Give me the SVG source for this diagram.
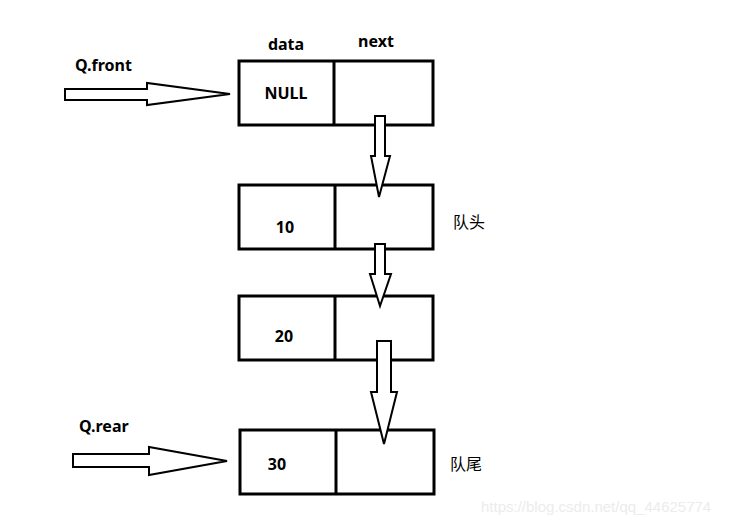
<svg xmlns="http://www.w3.org/2000/svg" width="733" height="524" viewBox="0 0 733 524">
<style>
.box{fill:#fff;stroke:#000;stroke-width:3}
.div{stroke:#000;stroke-width:3}
.arr{fill:#fff;stroke:#000;stroke-width:2;stroke-linejoin:miter}
.lbl{font-family:"Noto Sans","DejaVu Sans",sans-serif;font-weight:bold;font-size:16px;fill:#000}
.cn{font-family:"Noto Sans CJK SC",sans-serif;font-size:16px;fill:#000}
.wm{font-family:"Liberation Sans",Arial,sans-serif;font-size:15px;fill:#ececec}
</style>
<rect width="733" height="524" fill="#fff"/>
<g id="headers">
<text class="lbl" x="286" y="50" text-anchor="middle">data</text>
<text class="lbl" x="376" y="47" text-anchor="middle">next</text>
</g>
<g id="node-head">
<rect class="box" x="239" y="61" width="194" height="64"/>
<line class="div" x1="334" y1="61" x2="334" y2="125"/>
<text class="lbl" x="286" y="99" text-anchor="middle">NULL</text>
</g>
<g id="node-10">
<rect class="box" x="239" y="185" width="194" height="64"/>
<line class="div" x1="335" y1="185" x2="335" y2="249"/>
<text class="lbl" x="285" y="233" text-anchor="middle">10</text>
<text class="cn" x="453" y="228">队头</text>
</g>
<g id="node-20">
<rect class="box" x="239" y="296" width="194" height="64"/>
<line class="div" x1="335" y1="296" x2="335" y2="360"/>
<text class="lbl" x="284" y="342" text-anchor="middle">20</text>
</g>
<g id="node-30">
<rect class="box" x="240" y="430" width="194" height="64"/>
<line class="div" x1="336" y1="430" x2="336" y2="494"/>
<text class="lbl" x="277" y="470" text-anchor="middle">30</text>
<text class="cn" x="450" y="470">队尾</text>
</g>
<g id="pointers">
<text class="lbl" x="75" y="71">Q.front</text>
<text class="lbl" x="79" y="432">Q.rear</text>
</g>
<g id="connectors">
<polygon class="arr" points="65,89 147,89 147,83 230,94 147,105 147,100 65,100"/>
<polygon class="arr" points="375,116 385,116 385,156 390,156 379,197 371,156 375,156"/>
<polygon class="arr" points="375,244 385,244 385,274 391,274 380,306 370,274 375,274"/>
<polygon class="arr" points="377,341 391,341 391,392 397,392 384,444 371,392 377,392"/>
<polygon class="arr" points="73,454 149,454 149,447 227,461 149,475 149,467 73,467"/>
</g>
<text class="wm" x="481" y="512">https://blog.csdn.net/qq_44625774</text>
</svg>
